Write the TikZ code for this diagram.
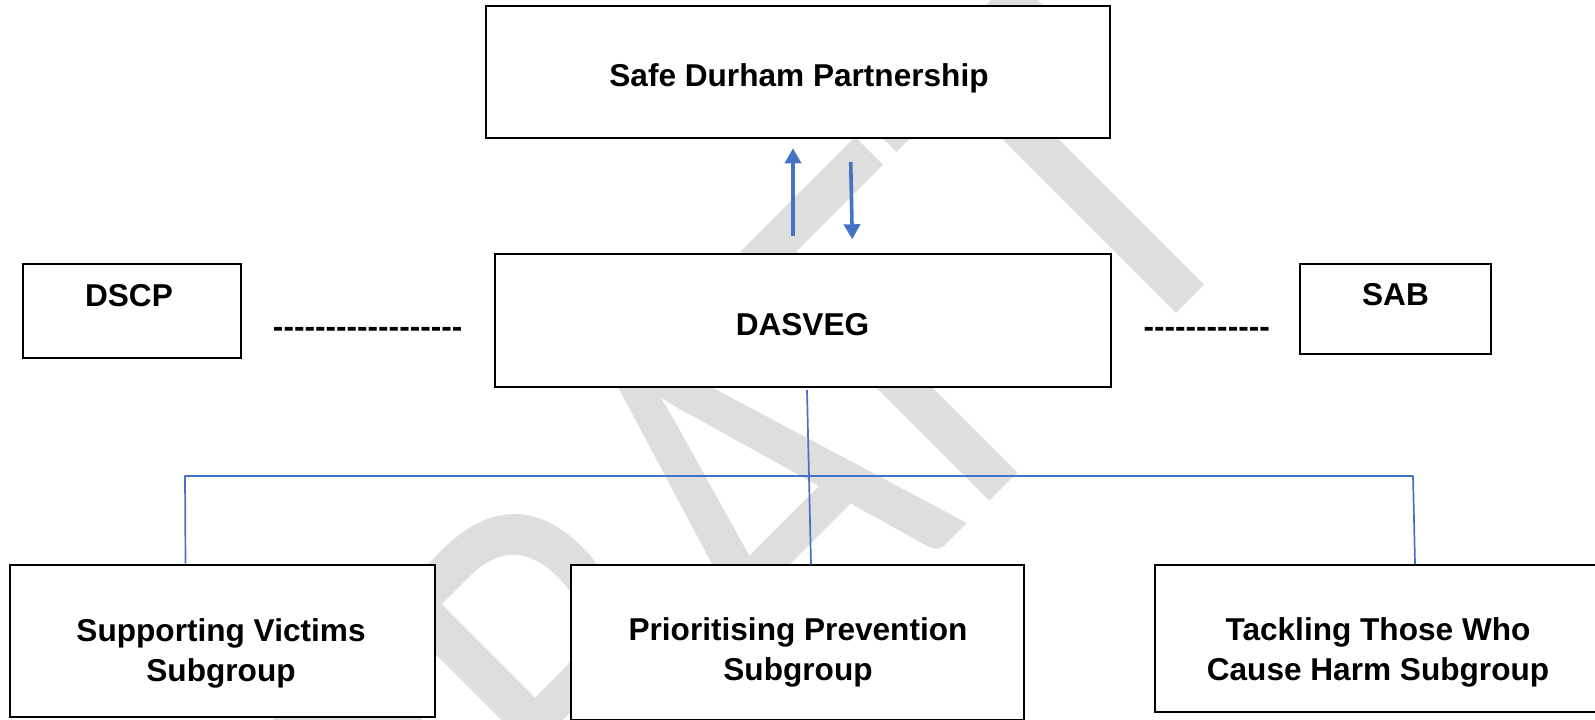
\documentclass[tikz,border=0pt]{standalone}
\usepackage{fontspec}
\setmainfont{Liberation Sans}
\newfontfamily\wmfont{Carlito}
\usetikzlibrary{arrows.meta,fit}
\definecolor{wmgray}{RGB}{222,222,222}
\definecolor{oblue}{RGB}{68,114,196}
\newcommand\hyphenrow[1]{\foreach \k in {1,...,#1}{\mbox{-}}}
\begin{document}
\begin{tikzpicture}[x=0.5pt,y=-0.5pt,
  box/.style={draw=black, line width=1pt, fill=white, inner sep=0pt, outer sep=0pt},
  lbl/.style={anchor=base, inner sep=0pt, font=\fontsize{15.8pt}{20pt}\selectfont\bfseries, align=center},
  hlink/.style={draw=oblue, line width=1pt},
  vlink/.style={draw=oblue, line width=0.85pt},
  flow/.style={draw=oblue, line width=1.8pt, -{Triangle[width=8pt,length=7.5pt]}, fill=oblue},
]
\useasboundingbox (0,0) rectangle (1595,719);
\fill[white] (0,0) rectangle (1595,719);
% watermark
\begin{scope}
\clip (0,0) rectangle (1595,719);
\node[anchor=base west, inner sep=0pt, rotate=45, text=wmgray,
      font={\fontsize{274.5pt}{274.5pt}\wmfont}] (wm) at (418.6,1072) {\scalebox{0.815}[1]{DRAFT}};
\end{scope}
% boxes
\node[box, fit={(486,6)(1110,137.5)}] (sdp) {};
\node[box, fit={(495,254)(1110.5,386.5)}] (dasveg) {};
\node[box, fit={(22.5,264)(241,357.5)}] (dscp) {};
\node[box, fit={(1300,264)(1491,354)}] (sab) {};
\node[box, fit={(9.5,564.5)(435,717)}] (sv) {};
\node[box, fit={(571,564.5)(1024,719.5)}] (pp) {};
\node[box, fit={(1155,564.5)(1602,711.5)}] (tt) {};
% connectors
\coordinate (dv1) at (807,390);
\coordinate (dv2) at (811,564.5);
\coordinate (hl) at (185,475.7);
\coordinate (hr) at (1413,475.7);
\coordinate (lv2) at (185.5,563.5);
\coordinate (rv2) at (1415,564);
\draw[hlink] (hl) -- (hr);
\draw[vlink] (dv1) -- (dv2);
\draw[vlink] (hl) -- (lv2);
\draw[vlink] (hr) -- (rv2);
\coordinate (up1) at (793,236);
\coordinate (up2) at (793,148.3);
\coordinate (dn1) at (850.7,162);
\coordinate (dn2) at (852.3,239.3);
\draw[flow] (up1) -- (up2);
\draw[flow] (dn1) -- (dn2);
% texts
\node[lbl] (sdpt) at (799,86) {Safe Durham Partnership};
\node[lbl] (dasvegt) at (802.5,335) {DASVEG};
\node[lbl] (dscpt) at (129,306) {DSCP};
\node[lbl] (sabt) at (1395.5,305) {SAB};
\node[lbl] (dashl) at (367.7,337) {\hyphenrow{18}};
\node[lbl] (dashr) at (1206.7,337) {\hyphenrow{12}};
\node[lbl] (svt) at (221,681.5) {Supporting Victims\\Subgroup};
\node[lbl] (ppt) at (798,680) {Prioritising Prevention\\Subgroup};
\node[lbl] (ttt) at (1378,680) {Tackling Those Who\\Cause Harm Subgroup};
\end{tikzpicture}
\end{document}
